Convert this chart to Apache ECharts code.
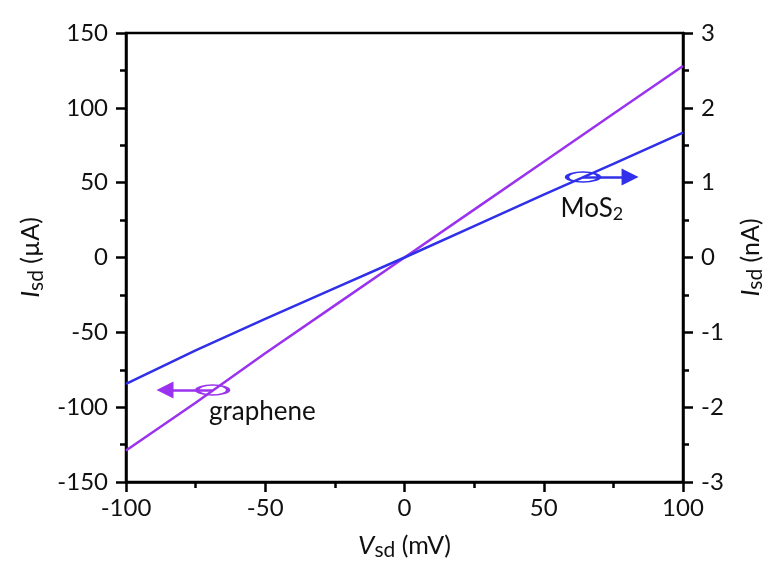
<!DOCTYPE html>
<html><head><meta charset="utf-8">
<script src="https://cdn.jsdelivr.net/npm/echarts@6/dist/echarts.min.js"></script>
<style>html,body{margin:0;padding:0;background:#fff}#c{width:767px;height:569px}</style>
</head><body><div id="c"></div>
<script>
const vsd = [-100, -75, -50, -25, 0, 25, 50, 75, 100];
const grapheneUA = [-129, -97, -64, -32, 0, 32, 64, 96, 128];
const mos2NA = [-1.69, -1.24, -0.82, -0.41, 0, 0.42, 0.84, 1.25, 1.67];
const xTicks = [-100, -50, 0, 50, 100];
const leftTicks = [-150, -100, -50, 0, 50, 100, 150];
const rightTicks = [-3, -2, -1, 0, 1, 2, 3];

const PURPLE = '#9b33ee';
const BLUE = '#3030ea';
const FONT = 'Lato';
const tickStyle = {color: '#111', fontSize: 24, fontFamily: FONT};
const nameRich = {
  i: {fontStyle: 'italic', fontSize: 26, fontFamily: FONT, color: '#111'},
  s: {fontSize: 21, fontFamily: FONT, color: '#111', verticalAlign: 'bottom', padding: [10, 0, 0, 0]},
  n: {fontSize: 25, fontFamily: FONT, color: '#111'}
};
const axisLine = {onZero: false, lineStyle: {color: '#000', width: 2.5}};
const tick = {show: true, inside: false, length: 10, lineStyle: {color: '#000', width: 2.5}};
const minor = {show: true, splitNumber: 2, length: 6, lineStyle: {color: '#000', width: 2.5}};

const chart = echarts.init(document.getElementById('c'), null, {renderer: 'canvas'});
chart.setOption({
  backgroundColor: '#fff',
  animation: false,
  grid: {left: 126, top: 33, right: 84, bottom: 87, containLabel: false, outerBoundsMode: 'none',
    show: true, borderColor: '#000', borderWidth: 2.5, backgroundColor: 'transparent'},
  xAxis: {
    type: 'value', min: xTicks[0], max: xTicks[xTicks.length - 1], interval: 50,
    axisLine: axisLine, axisTick: tick, minorTick: minor,
    splitLine: {show: false},
    axisLabel: Object.assign({margin: 14}, tickStyle),
    name: '{i|V}{s|sd}{n| (mV)}', nameLocation: 'middle', nameGap: 48,
    nameTextStyle: {rich: nameRich}
  },
  yAxis: [{
    type: 'value', position: 'left', min: leftTicks[0], max: leftTicks[leftTicks.length - 1], interval: 50,
    axisLine: axisLine, axisTick: tick, minorTick: minor,
    splitLine: {show: false},
    axisLabel: Object.assign({margin: 18}, tickStyle),
    name: '{i|I}{s|sd}{n| (µA)}', nameLocation: 'middle', nameGap: 78,
    nameTextStyle: {rich: nameRich}
  }, {
    type: 'value', position: 'right', min: rightTicks[0], max: rightTicks[rightTicks.length - 1], interval: 1,
    axisLine: axisLine, axisTick: tick, minorTick: minor,
    splitLine: {show: false},
    axisLabel: Object.assign({margin: 18}, tickStyle),
    name: '{i|I}{s|sd}{n| (nA)}', nameLocation: 'middle', nameGap: 52,
    nameTextStyle: {rich: nameRich}
  }],
  series: [{
    name: 'graphene', type: 'line', yAxisIndex: 0, showSymbol: false, symbol: 'none',
    data: vsd.map((v, i) => [v, grapheneUA[i]]),
    lineStyle: {color: PURPLE, width: 2.5}, itemStyle: {color: PURPLE},
    markPoint: {
      silent: true,
      data: [
        {coord: [-68.9, -88.5], symbol: 'circle', symbolSize: [31, 10],
          itemStyle: {color: 'rgba(0,0,0,0)', borderColor: PURPLE, borderWidth: 2.5}, label: {show: false}},
        {coord: [-51, -103], symbol: 'circle', symbolSize: 0,
          label: {show: true, position: 'inside', formatter: 'graphene', color: '#111', fontSize: 26, fontFamily: FONT}}
      ]
    },
    markLine: {
      silent: true, symbol: ['none', 'triangle'], symbolSize: 17, label: {show: false},
      lineStyle: {color: PURPLE, width: 2.5, type: 'solid'},
      data: [[{coord: [-68.9, -88.5]}, {coord: [-86, -88.5]}]]
    }
  }, {
    name: 'MoS2', type: 'line', yAxisIndex: 1, showSymbol: false, symbol: 'none',
    data: vsd.map((v, i) => [v, mos2NA[i]]),
    lineStyle: {color: BLUE, width: 2.5}, itemStyle: {color: BLUE},
    markPoint: {
      silent: true,
      data: [
        {coord: [64.1, 1.075], symbol: 'circle', symbolSize: [32, 10],
          itemStyle: {color: 'rgba(0,0,0,0)', borderColor: BLUE, borderWidth: 2.5}, label: {show: false}},
        {coord: [67.3, 0.66], symbol: 'circle', symbolSize: 0,
          label: {show: true, position: 'inside', formatter: '{n|MoS}{s|2}', rich: {
            n: {fontSize: 26, fontFamily: FONT, color: '#111'},
            s: {fontSize: 18, fontFamily: FONT, color: '#111', verticalAlign: 'bottom', padding: [12, 0, 0, 0]}
          }}}
      ]
    },
    markLine: {
      silent: true, symbol: ['none', 'triangle'], symbolSize: 17, label: {show: false},
      lineStyle: {color: BLUE, width: 2.5, type: 'solid'},
      data: [[{coord: [64.1, 1.075]}, {coord: [81, 1.075]}]]
    }
  }]
});
</script></body></html>
